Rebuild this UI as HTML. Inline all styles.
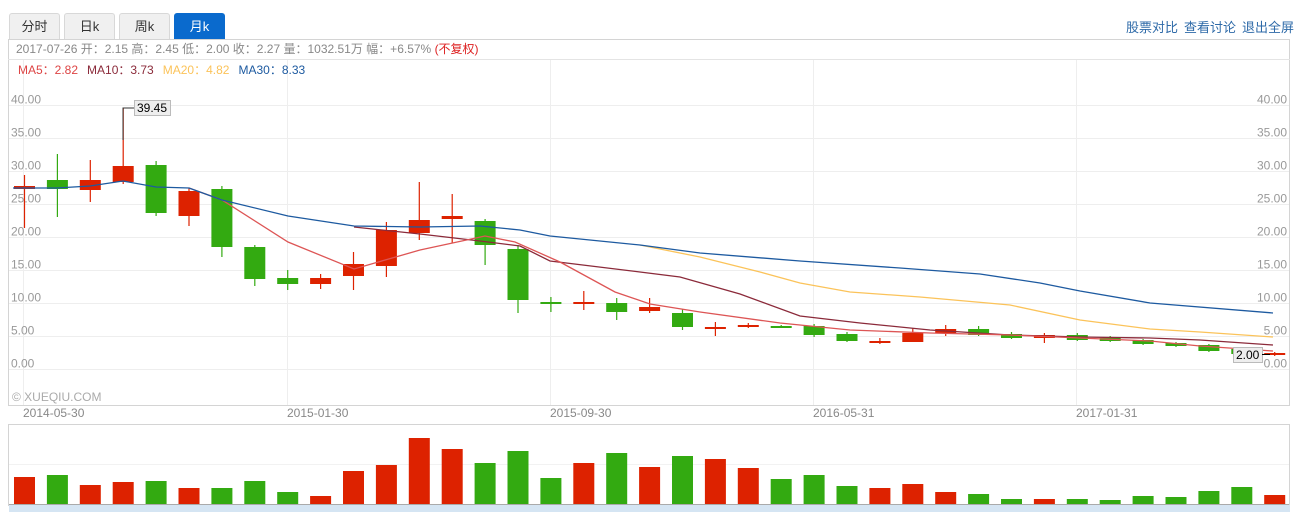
<!DOCTYPE html>
<html><head><meta charset="utf-8">
<style>
body{margin:0;background:#fff;width:1303px;height:512px;overflow:hidden;font-family:"Liberation Sans","Noto Sans CJK SC",sans-serif;}
.tab{position:absolute;top:13px;height:26px;width:51px;border:1px solid #d8d8d8;border-bottom:none;background:#f0f0f0;border-radius:3px 3px 0 0;font-size:13px;line-height:26px;text-align:center;color:#333;box-sizing:border-box}
.tab.on{background:#0a6acd;color:#fff;border-color:#0a6acd}
.lk{position:absolute;top:17px;font-size:13px;color:#2e6aa8}
</style></head><body>
<div class="tab" style="left:9px">分时</div>
<div class="tab" style="left:64px">日k</div>
<div class="tab" style="left:119px">周k</div>
<div class="tab on" style="left:174px">月k</div>
<div class="lk" style="left:1126px">股票对比</div>
<div class="lk" style="left:1184px">查看讨论</div>
<div class="lk" style="left:1242px">退出全屏</div>
<svg id="s" width="1303" height="512" style="position:absolute;left:0;top:0" xmlns="http://www.w3.org/2000/svg" font-family="Liberation Sans, Noto Sans CJK SC, sans-serif"></svg>
<script>
var s='';
// frames
s+='<rect x="8.5" y="39.5" width="1281" height="366" fill="none" stroke="#d4d4d4"/>';
s+='<line x1="8" y1="59.5" x2="1290" y2="59.5" stroke="#e4e4e4"/>';
[23,287,550,813,1076].forEach(function(x){s+='<line x1="'+(x+.5)+'" y1="60" x2="'+(x+.5)+'" y2="405" stroke="#eeeeee"/>';});
for(var i=0;i<9;i++){var y=Math.round(104.7+33*i)+.5;s+='<line x1="9" y1="'+y+'" x2="1289" y2="'+y+'" stroke="#eeeeee"/>';
 var t=(40-5*i).toFixed(2);s+='<text x="11" y="'+(y-2)+'" font-size="12" fill="#999">'+t+'</text><text x="1287" y="'+(y-2)+'" font-size="12" fill="#999" text-anchor="end">'+t+'</text>';}
s+='<text x="16" y="53" font-size="12" fill="#888">2017-07-26 开：2.15 高：2.45 低：2.00 收：2.27 量：1032.51万 幅：+6.57% <tspan fill="#d22">(不复权)</tspan></text>';
s+='<text x="18" y="74" font-size="12"><tspan fill="#d44">MA5：2.82</tspan><tspan dx="9" fill="#8b2a3a">MA10：3.73</tspan><tspan dx="9" fill="#fbc35a">MA20：4.82</tspan><tspan dx="9" fill="#1d5aa0">MA30：8.33</tspan></text>';
s+='<text x="12" y="401" font-size="12" fill="#aaa">© XUEQIU.COM</text>';
[[23,'2014-05-30'],[287,'2015-01-30'],[550,'2015-09-30'],[813,'2016-05-31'],[1076,'2017-01-31']].forEach(function(d){s+='<text x="'+d[0]+'" y="417" font-size="12" fill="#888">'+d[1]+'</text>';});
var C=[['r',186,189,175,228],['g',180,189,154,217],['r',180,190,160,202],['r',166,182,108,184],['g',165,213,161,216],['r',191,216,188,226],['g',189,247,186,257],['g',247,279,245,286],['g',278,284,270,290],['r',278,284,274,289],['r',264,276,252,290],['r',230,266,222,277],['r',220,233,182,240],['r',216,219,194,243],['g',221,245,219,265],['g',249,300,245,313],['g',302,304,297,312],['r',302,304,291,310],['g',303,312,298,320],['r',307,311,298,313],['g',313,327,309,330],['r',327,328,322,336],['r',325,327,323,328],['g',326,328,325,328],['g',326,335,324,337],['g',334,341,332,342],['r',341,343,338,344],['r',333,342,328,342],['r',329,333,325,336],['g',329,335,326,336],['g',334,338,332,339],['r',335,338,333,343],['g',335,340,333,341],['g',338,341,336,342],['g',340,344,339,345],['g',343,346,342,347],['g',345,351,344,352],['g',349,354,348,355],['r',353,355,352,356]];
var V=[477,475,485,482,481,488,488,481,492,496,471,465,438,449,463,451,478,463,453,467,456,459,468,479,475,486,488,484,492,494,499,499,499,500,496,497,491,487,495];
var R='#dd2200',G='#33aa11';
// volume pane
s+='<rect x="8.5" y="424.5" width="1281" height="81" fill="none" stroke="#d4d4d4"/><line x1="9" y1="464.5" x2="1289" y2="464.5" stroke="#f2f2f2"/>';
s+='<rect x="9" y="505" width="1281" height="7" fill="#d5e5f3"/><line x1="9" y1="504.5" x2="1289" y2="504.5" stroke="#aaa"/>';
C.forEach(function(c,i){var x=24.5+32.9*i,col=c[0]=='r'?R:G;
 s+='<line x1="'+x+'" y1="'+c[3]+'" x2="'+x+'" y2="'+c[4]+'" stroke="'+col+'" stroke-width="1.2"/>';
 s+='<rect x="'+(x-10.5)+'" y="'+c[1]+'" width="21" height="'+Math.max(2,c[2]-c[1])+'" fill="'+col+'"/>';
 s+='<rect x="'+(x-10.5)+'" y="'+V[i]+'" width="21" height="'+(504-V[i])+'" fill="'+col+'"/>';});
function pl(p,c){s+='<polyline fill="none" stroke="'+c+'" stroke-width="1.3" points="'+p+'"/>';}
pl('640,245 700,257 760,272 800,283 850,292 920,297 1010,305 1080,320 1150,329 1200,332 1273,337','#fbc35a');
pl('354,227 420,234 480,241 520,246 550,261 640,272 680,277 740,294 800,316 860,323 930,330 1010,335 1080,337 1150,338 1200,340 1273,345','#8b2a3a');
pl('189,188 222,200 288,242 354,269 420,250 485,236 515,242 560,262 615,292 650,304 700,312 780,323 850,330 930,333 1010,335 1080,338 1150,341 1200,346 1273,351','#dd5555');
pl('13,188 57,188 90,186 123,181 156,187 189,188 222,200 288,216 354,226 420,227 480,226 520,230 550,236 640,245 700,253 800,261 900,268 980,274 1040,283 1080,291 1150,303 1273,313','#1d5aa0');
// markers
s+='<polyline points="123,140 123,108 134,108" fill="none" stroke="#333"/><rect x="134.5" y="100.5" width="36" height="15" fill="#eee" stroke="#bbb"/><text x="137" y="112" font-size="12" fill="#000">39.45</text>';
s+='<rect x="1233.5" y="347.5" width="29" height="15" fill="#eee" stroke="#bbb"/><text x="1236" y="359" font-size="12" fill="#000">2.00</text><line x1="1262" y1="354.5" x2="1270" y2="354.5" stroke="#000"/>';
document.getElementById('s').innerHTML=s;
</script>
</body></html>
